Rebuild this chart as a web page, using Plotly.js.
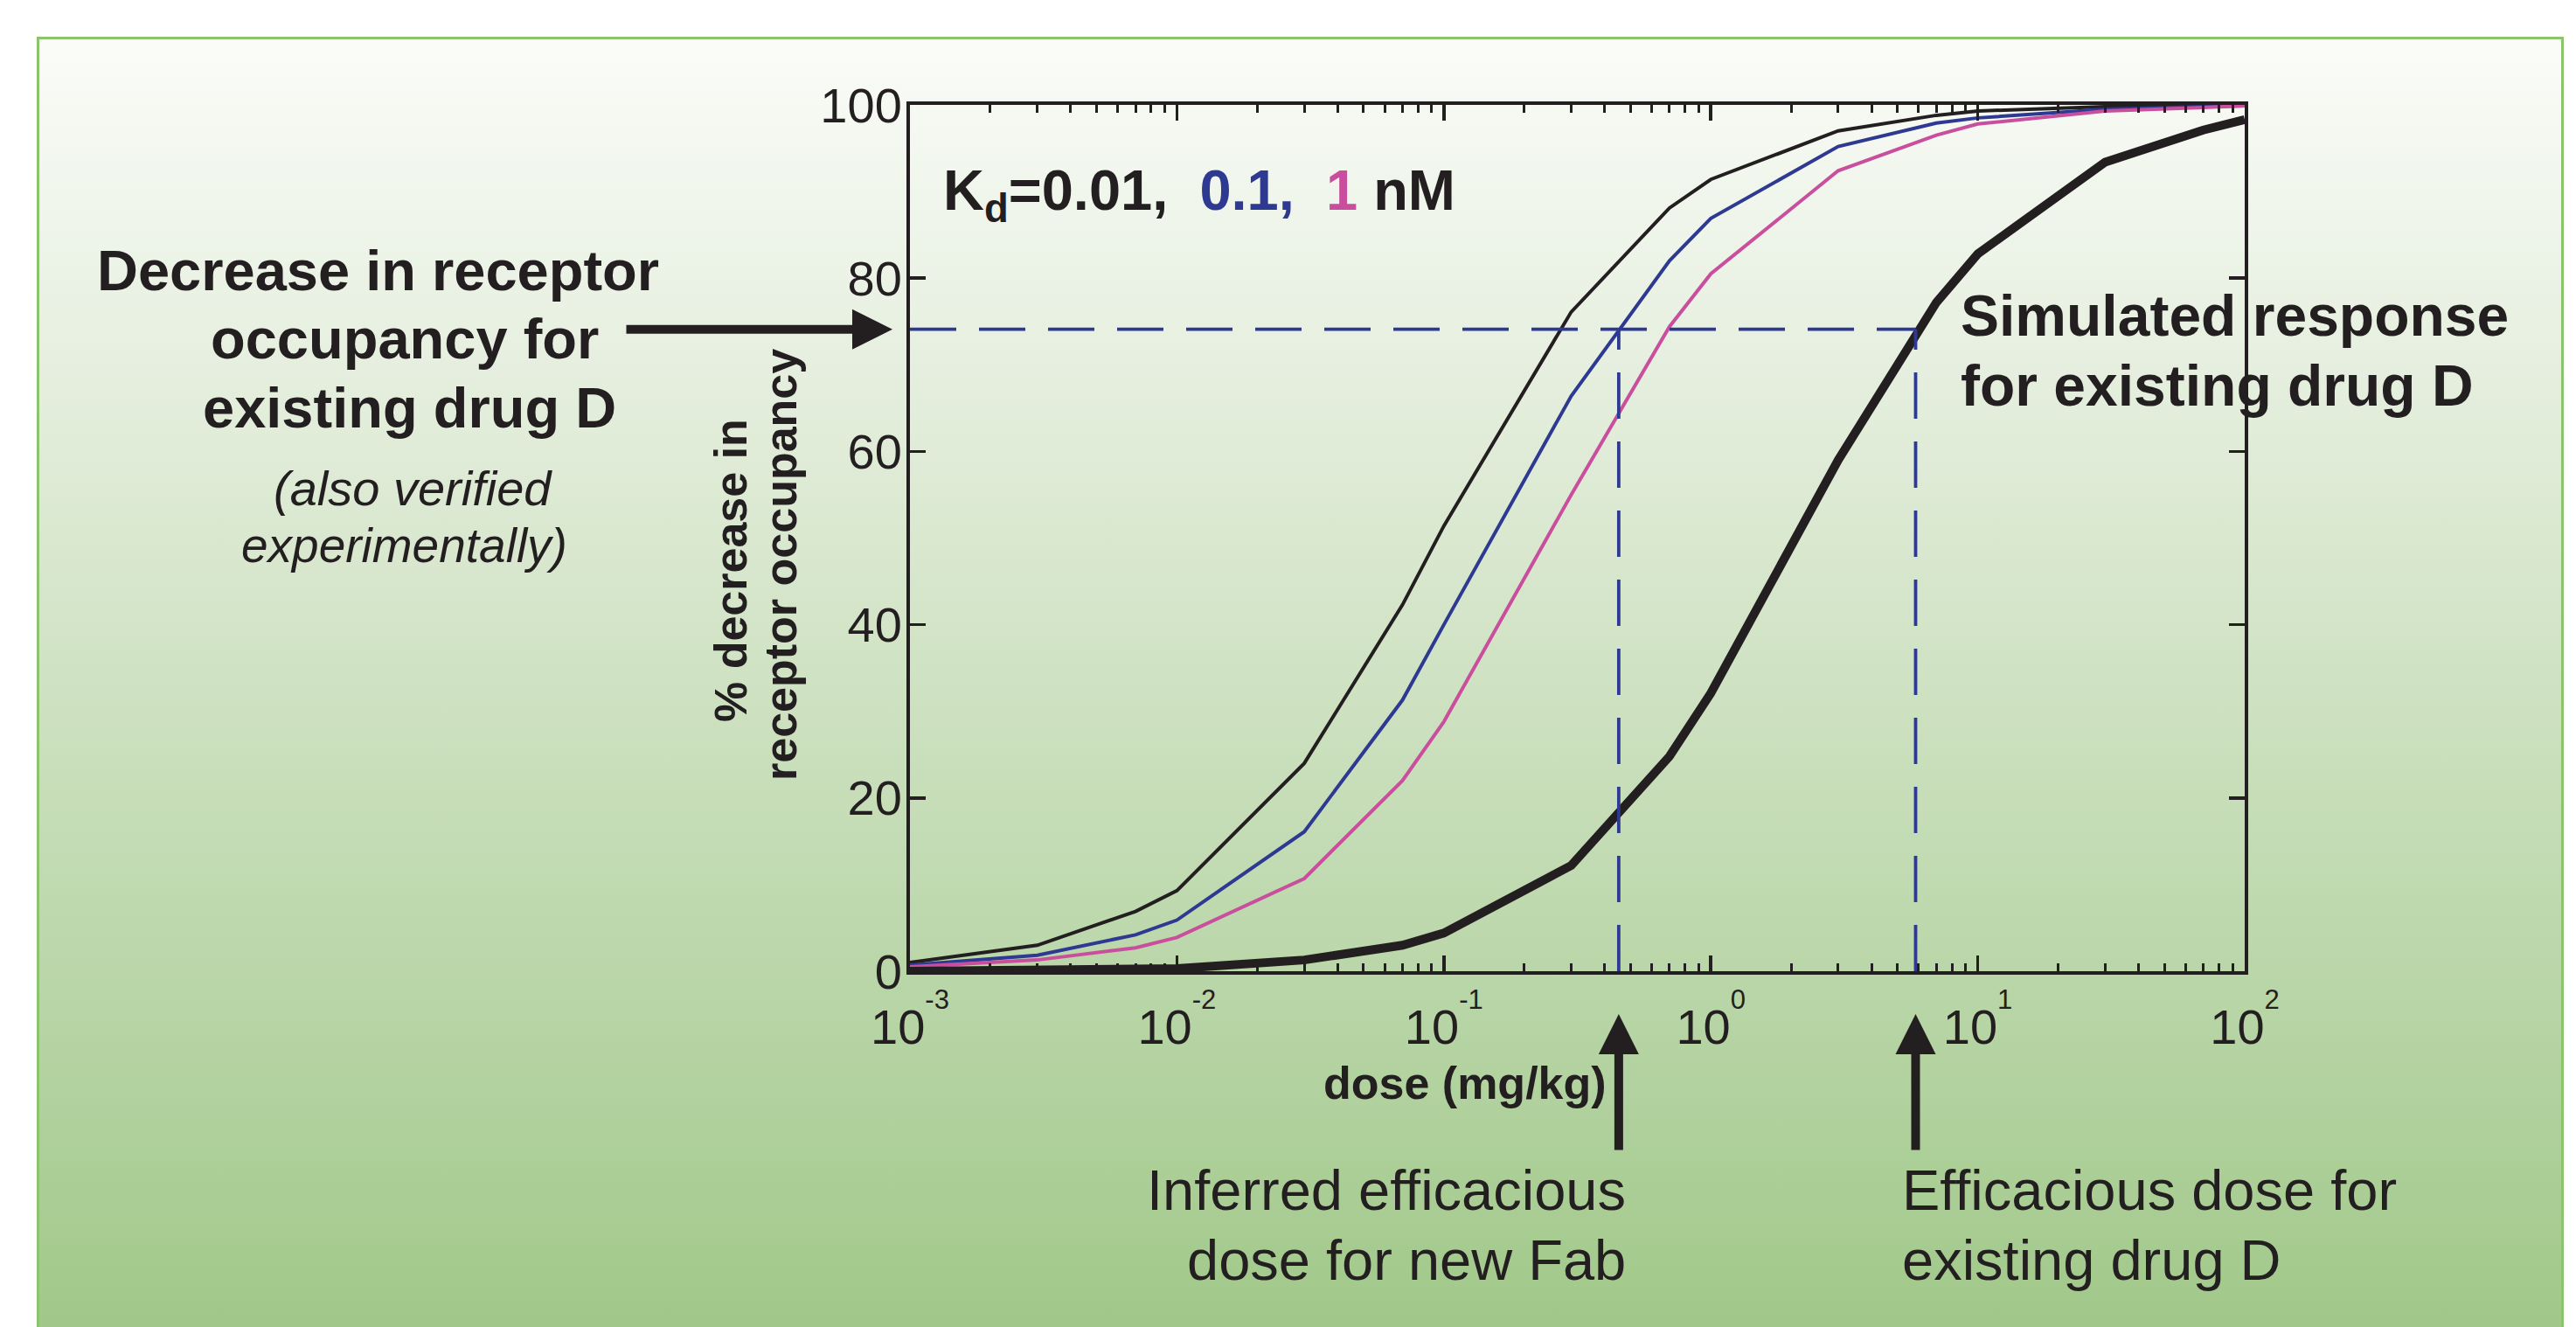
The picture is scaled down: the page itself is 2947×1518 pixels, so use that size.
<!DOCTYPE html>
<html>
<head>
<meta charset="utf-8">
<script src="https://cdn.plot.ly/plotly-3.0.1.min.js"></script>
<style>
  html, body { margin: 0; padding: 0; background: #ffffff; width: 2947px; height: 1518px; overflow: hidden; }
  #frame {
    position: absolute; left: 42px; top: 42px; width: 2885px; height: 1500px;
    border: 3px solid #8cc46e; border-bottom: none;
    background: linear-gradient(to bottom, #fafcf8 0%, #e6efdf 25%, #d1e3c5 47%, #b9d6a8 72%, #9fc787 100%);
  }
  #chart { position: absolute; left: 0; top: 0; width: 2947px; height: 1518px; }
</style>
</head>
<body>
<div id="frame"></div>
<div id="chart"></div>
<script>
// ---- data ----
const doses = [0.001, 0.003, 0.007, 0.01, 0.03, 0.07, 0.1, 0.3, 0.7, 1, 3, 7, 10, 30, 70, 100];
const occKd001 = [1.0, 3.0, 6.9, 9.3, 24.0, 42.3, 51.4, 76.1, 88.1, 91.4, 97.0, 98.8, 99.3, 99.8, 99.95, 100];
const occKd01  = [0.7, 1.85, 4.2, 5.9, 16.1, 31.3, 40.0, 66.4, 82.0, 86.9, 95.2, 97.9, 98.5, 99.5, 99.8, 99.9];
const occKd1   = [0.5, 1.3, 2.7, 3.9, 10.7, 22.0, 28.8, 55.0, 74.4, 80.5, 92.4, 96.5, 97.8, 99.3, 99.7, 99.9];
const occDrugD = [0.0, 0.1, 0.2, 0.3, 1.3, 3.0, 4.4, 12.2, 24.8, 32.1, 59.0, 77.2, 82.8, 93.4, 97.1, 98.3];

const targetOccupancy = 74.1;      // % decrease for existing drug D
const doseNewFab = 0.452;          // inferred efficacious dose (mg/kg)
const doseDrugD = 5.85;            // efficacious dose of drug D (mg/kg)

const xTickVals = [0.001, 0.01, 0.1, 1, 10, 100];
const xTickExps = ['-3', '-2', '-1', '0', '1', '2'];
const yTickVals = [0, 20, 40, 60, 80, 100];
const minorDigits = [2, 3, 4, 5, 6, 7, 8, 9];
const decades = [0.001, 0.01, 0.1, 1, 10];

// ---- styling ----
const INK = '#231f20', BLUE = '#2e3a92', PINK = '#c94f9e';
const FONT = 'Liberation Sans, Arial, Helvetica, sans-serif';
const W = 2947, H = 1518;
const L = 1041, R = 2568, T = 120, B = 1111;
const px2x = p => (p - L) / (R - L);
const px2y = p => (B - p) / (B - T);

const xTickText = xTickExps.map(e => '10<sup><sup><span style="font-size:31px">' + e + '</span></sup></sup>');

const minorVals = [];
decades.forEach(d => minorDigits.forEach(m => minorVals.push(d * m)));

const dashStyle = {color: BLUE, width: 3.8, dash: '53px,26px'};

const traces = [
  {x: doses, y: occKd001, mode: 'lines', line: {color: INK, width: 4}, name: 'Kd=0.01 nM'},
  {x: doses, y: occKd01, mode: 'lines', line: {color: BLUE, width: 4}, name: 'Kd=0.1 nM'},
  {x: doses, y: occKd1, mode: 'lines', line: {color: PINK, width: 4}, name: 'Kd=1 nM'},
  {x: doses, y: occDrugD, mode: 'lines', line: {color: INK, width: 10}, name: 'drug D'},
  {x: [doses[0], doseDrugD], y: [targetOccupancy, targetOccupancy], mode: 'lines', line: dashStyle, name: 'target'},
  {x: [doseNewFab, doseNewFab], y: [0, targetOccupancy], mode: 'lines', line: dashStyle, name: 'Fab dose'},
  {x: [doseDrugD, doseDrugD], y: [0, targetOccupancy], mode: 'lines', line: dashStyle, name: 'D dose'}
];

function textLine(text, xpx, basePx, size, xanchor) {
  return {
    xref: 'paper', yref: 'paper', x: px2x(xpx), y: px2y(basePx - 0.905 * size),
    xanchor: xanchor, yanchor: 'top', showarrow: false, text: text,
    font: {family: FONT, size: size, color: INK}, align: xanchor === 'center' ? 'center' : xanchor
  };
}

const annotations = [
  textLine('<b>K<sub>d</sub>=0.01,\u00a0\u00a0<span style="color:' + BLUE + '">0.1,</span>\u00a0\u00a0<span style="color:' + PINK + '">1</span> nM</b>', 1077, 238, 65, 'left'),
  textLine('<b>Decrease in receptor</b>', 432, 330, 65, 'center'),
  textLine('<b>occupancy for</b>', 463, 408, 65, 'center'),
  textLine('<b>existing drug D</b>', 468, 487, 65, 'center'),
  textLine('<i>(also verified</i>', 472, 576, 56, 'center'),
  textLine('<i>experimentally)</i>', 462, 641, 55, 'center'),
  textLine('<b>Simulated response</b>', 2241, 382, 66, 'left'),
  textLine('<b>for existing drug D</b>', 2241, 462, 66, 'left'),
  textLine('<b>dose (mg/kg)</b>', 1676, 1255, 52, 'center'),
  textLine('Inferred efficacious', 1862, 1382, 65, 'right'),
  textLine('dose for new Fab', 1862, 1462, 65, 'right'),
  textLine('Efficacious dose for', 2174, 1382, 65, 'left'),
  textLine('existing drug D', 2174, 1462, 65, 'left'),
  {xref: 'paper', yref: 'paper', x: px2x(836), y: px2y(653), textangle: -90, showarrow: false,
   xanchor: 'center', yanchor: 'middle', text: '<b>% decrease in</b>', font: {family: FONT, size: 52, color: INK}},
  {xref: 'paper', yref: 'paper', x: px2x(893), y: px2y(646), textangle: -90, showarrow: false,
   xanchor: 'center', yanchor: 'middle', text: '<b>receptor occupancy</b>', font: {family: FONT, size: 52, color: INK}},
  // arrows
  {xref: 'paper', yref: 'y', x: px2x(1021), y: targetOccupancy, ax: -306, ay: 0, text: '', showarrow: true,
   arrowhead: 2, arrowsize: 0.92, arrowwidth: 10, arrowcolor: INK},
  {xref: 'x', yref: 'paper', x: Math.log10(doseNewFab), y: px2y(1160), ax: 0, ay: 157, text: '', showarrow: true,
   arrowhead: 2, arrowsize: 0.92, arrowwidth: 10, arrowcolor: INK},
  {xref: 'x', yref: 'paper', x: Math.log10(doseDrugD), y: px2y(1160), ax: 0, ay: 157, text: '', showarrow: true,
   arrowhead: 2, arrowsize: 0.92, arrowwidth: 10, arrowcolor: INK}
];

const layout = {
  width: W, height: H, autosize: false,
  margin: {l: L, r: W - R, t: T, b: H - B, pad: 0},
  paper_bgcolor: 'rgba(0,0,0,0)', plot_bgcolor: 'rgba(0,0,0,0)',
  showlegend: false,
  font: {family: FONT, color: INK},
  xaxis: {
    type: 'log', range: [-3, 2], tickmode: 'array', tickvals: xTickVals, ticktext: xTickText,
    ticks: 'inside', ticklen: 18, tickwidth: 3.5, tickcolor: INK,
    showline: true, linewidth: 4, linecolor: INK, mirror: 'ticks',
    showgrid: false, zeroline: false, ticklabelstandoff: 12,
    tickfont: {family: FONT, size: 56, color: INK},
    minor: {tickmode: 'array', tickvals: minorVals, ticks: 'inside', ticklen: 9, tickwidth: 3, tickcolor: INK, showgrid: false}
  },
  yaxis: {
    range: [0, 100], tickmode: 'array', tickvals: yTickVals,
    ticks: 'inside', ticklen: 18, tickwidth: 3.5, tickcolor: INK,
    showline: true, linewidth: 4, linecolor: INK, mirror: 'ticks',
    showgrid: false, zeroline: false, ticklabelstandoff: -6,
    tickfont: {family: FONT, size: 56, color: INK}
  },
  annotations: annotations
};

Plotly.newPlot('chart', traces, layout, {staticPlot: true, displayModeBar: false});
</script>
</body>
</html>
